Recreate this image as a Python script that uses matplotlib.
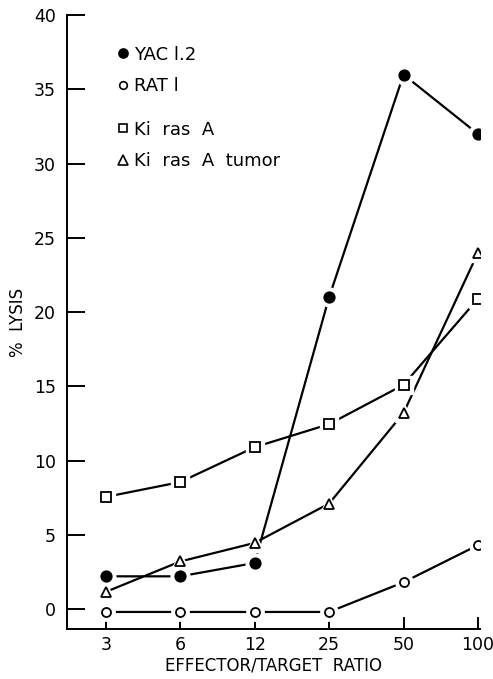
import matplotlib
matplotlib.use('Agg')
import matplotlib.pyplot as plt
from matplotlib.lines import Line2D

# Effector/target ratios (categorical, equally spaced on the axis)
ratios = ['3', '6', '12', '25', '50', '100']

# % lysis
yac = [2.2, 2.2, 3.1, 21.0, 36.0, 32.0]
rat = [-0.2, -0.2, -0.2, -0.2, 1.8, 4.3]
kiras = [7.55, 8.55, 10.9, 12.45, 15.1, 20.9]
kiras_tumor = [1.15, 3.2, 4.45, 7.1, 13.2, 24.0]

y_ticks = [0, 5, 10, 15, 20, 25, 30, 35, 40]

plt.rcParams['font.family'] = ['DejaVu Sans']

fig = plt.figure(figsize=(4.93, 6.79), dpi=100)
ax = fig.add_axes([0.136, 0.0736, 0.838, 0.904])

x = list(range(len(ratios)))

series = [
    (yac, 'o', 'black', 7.5, 'YAC l.2'),
    (rat, 'o', 'white', 6.5, 'RAT l'),
    (kiras, 's', 'white', 6.5, 'Ki  ras  A'),
    (kiras_tumor, '^', 'white', 7.5, 'Ki  ras  A  tumor'),
]

handles = []
for vals, mk, fc, ms, lab in series:
    ax.plot(x, vals, color='black', lw=1.6, zorder=2)
    # white halo so lines stop short of each marker
    ax.plot(x, vals, ls='none', marker=mk, ms=ms + 6, mfc='white',
            mec='white', zorder=3)
    ax.plot(x, vals, ls='none', marker=mk, ms=ms, mfc=fc,
            mec='black', mew=1.3, zorder=4)
    handles.append(Line2D([], [], ls='none', marker=mk, ms=ms - 1, mfc=fc,
                          mec='black', mew=1.2, label=lab))

ax.set_xlim(-0.52, 5.03)
ax.set_ylim(-1.35, 40)
ax.set_xticks(x)
ax.set_xticklabels(ratios)
ax.set_yticks(y_ticks)

for s in ['top', 'right']:
    ax.spines[s].set_visible(False)
ax.spines['left'].set_bounds(-1.35, 40)
ax.spines['left'].set_linewidth(1.4)
ax.spines['bottom'].set_linewidth(1.4)

ax.tick_params(axis='y', direction='in', length=13, width=1.4,
               labelsize=12.5, pad=8)
ax.tick_params(axis='x', direction='in', length=9, width=1.4,
               labelsize=12.5, pad=5)

ax.set_xlabel('EFFECTOR/TARGET  RATIO', fontsize=12, labelpad=2)
ax.set_ylabel('%  LYSIS', fontsize=12, labelpad=5)

leg1 = ax.legend(handles=handles[:2], loc='upper left',
                 bbox_to_anchor=(0.095, 0.962), frameon=False,
                 handletextpad=0.15, handlelength=1.0, labelspacing=0.75,
                 fontsize=13, borderaxespad=0)
ax.add_artist(leg1)
ax.legend(handles=handles[2:], loc='upper left',
          bbox_to_anchor=(0.095, 0.84), frameon=False,
          handletextpad=0.15, handlelength=1.0, labelspacing=0.75,
          fontsize=13, borderaxespad=0)

fig.savefig('out.png', dpi=100)
